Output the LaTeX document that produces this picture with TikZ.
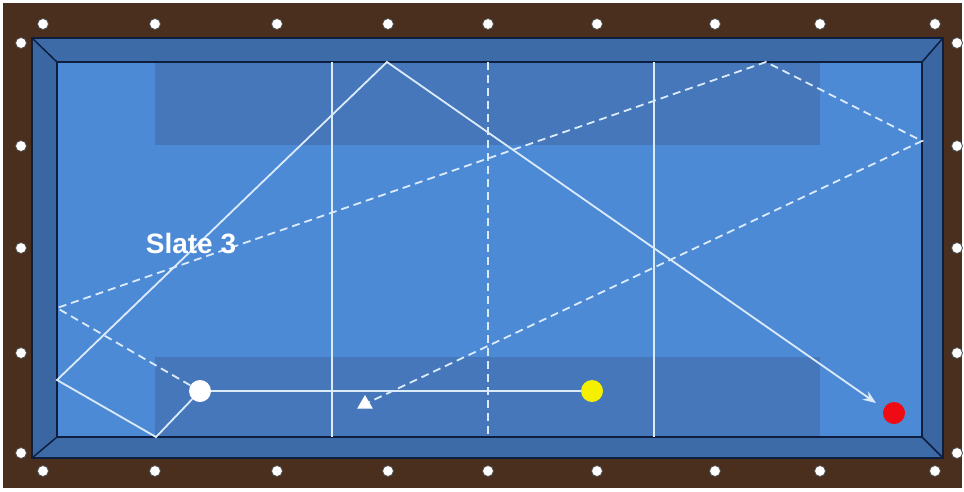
\documentclass[tikz,border=0pt]{standalone}
\usepackage{fontspec}
\setmainfont{Liberation Sans}
\usetikzlibrary{arrows.meta,shapes.geometric}
\definecolor{wood}{HTML}{4A2E1E}
\definecolor{cushA}{HTML}{3D6BA8}
\definecolor{cushB}{HTML}{3A66A2}
\definecolor{cloth}{HTML}{4D8AD5}
\definecolor{band}{HTML}{4577BA}
\definecolor{edge}{HTML}{0E1E3E}
\definecolor{chalk}{HTML}{DCEBFC}
\definecolor{ballyellow}{HTML}{F4F000}
\definecolor{ballred}{HTML}{F00A14}
\tikzset{
  diamondspot/.style={circle,fill=white,draw=black!70,line width=0.8pt,inner sep=0pt,minimum size=11pt},
  ball/.style={circle,inner sep=0pt,minimum size=22pt},
  shotline/.style={draw=chalk,line width=1.8pt},
  dashline/.style={draw=chalk,line width=1.8pt,dash pattern=on 8pt off 5pt},
  markline/.style={draw=chalk,line width=1.8pt},
  targetmark/.style={regular polygon,regular polygon sides=3,fill=white,inner sep=0pt,minimum size=18pt},
}
\begin{document}
\begin{tikzpicture}[x=1pt,y=-1pt]
\useasboundingbox (0,0) rectangle (964,491);
\fill[white] (0,0) rectangle (964,491);
\fill[wood] (3,3) rectangle (962,488);
% cushions
\fill[cushA] (32,38) -- (943,38) -- (922,62) -- (57,62) -- cycle;
\fill[cushB] (943,38) -- (943,458) -- (922,437) -- (922,62) -- cycle;
\fill[cushA] (32,458) -- (943,458) -- (922,437) -- (57,437) -- cycle;
\fill[cushB] (32,38) -- (57,62) -- (57,437) -- (32,458) -- cycle;
% cloth
\fill[cloth] (57,62) rectangle (922,437);
\fill[band] (155,62) rectangle (820,145);
\fill[band] (155,357) rectangle (820,437);
% edges
\draw[edge,line width=2.5pt] (32,38) rectangle (943,458);
\draw[edge,line width=2pt] (57,62) rectangle (922,437);
\draw[edge,line width=1.5pt] (32,38) -- (57,62) (943,38) -- (922,62) (943,458) -- (922,437) (32,458) -- (57,437);
% diamonds
\foreach \x [count=\i] in {43,155,277,388,488,597,715,820,935} {
  \node[diamondspot] (t\i) at (\x,24) {};
  \node[diamondspot] (b\i) at (\x,471) {};
}
\foreach \y [count=\i] in {43,146,248,353,453} {
  \node[diamondspot] (l\i) at (21,\y) {};
  \node[diamondspot] (r\i) at (957,\y) {};
}
% marker lines
\coordinate (v1t) at (332,62); \coordinate (v1b) at (332,437);
\coordinate (v2t) at (488,62); \coordinate (v2b) at (488,437);
\coordinate (v3t) at (654,62); \coordinate (v3b) at (654,437);
\draw[markline] (v1t) -- (v1b);
\draw[dashline] (v2t) -- (v2b);
\draw[markline] (v3t) -- (v3b);
% balls
\node[ball,fill=white] (cue) at (200,391) {};
\node[ball,fill=ballyellow] (yel) at (592,391) {};
\node[ball,fill=ballred] (red) at (894,413) {};
% bounce points
\coordinate (s1) at (156,437);
\coordinate (s2) at (57,380);
\coordinate (s3) at (387,62);
\coordinate (s4) at (876,403);
\coordinate (d1) at (57,308);
\coordinate (d2) at (766,62);
\coordinate (d3) at (922,141);
\node[targetmark] (tri) at (365,404) {};
% paths
\draw[shotline] (cue) -- (yel);
\draw[shotline,-{Stealth[length=13pt,width=10pt]}] (cue) -- (s1) -- (s2) -- (s3) -- (s4);
\draw[dashline] (cue) -- (d1) -- (d2) -- (d3) -- (tri);
% label
\node[text=white,font=\bfseries\fontsize{28}{30}\selectfont] (lbl) at (191,244) {Slate 3};
\end{tikzpicture}
\end{document}
